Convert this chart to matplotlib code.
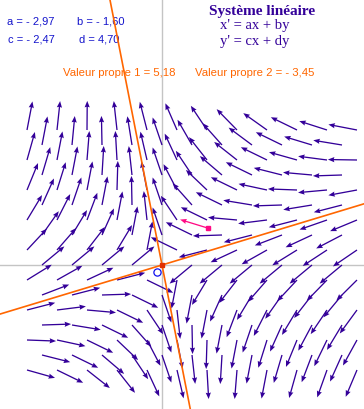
import numpy as np
import matplotlib.pyplot as plt

# linear system  x' = ax + by ,  y' = cx + dy
a, b, c, d = -2.97, -1.60, -2.47, 4.70
coef_labels = ["a = - 2,97", "b = - 1,60", "c = - 2,47", "d = 4,70"]
eig_labels = ["Valeur propre 1 = 5,18", "Valeur propre 2 = - 3,45"]

# sample points of the direction field (step 0.5, checkerboard)
grid_i = np.arange(-9, 14)
grid_k = np.arange(-7, 10)
step = 0.5

# point dragged by the user (pink arrow)
probe = (1.53, 1.23)

W, H = 364, 410
PX = 30.0  # pixels per unit
ORIG = (162, 266)

FIELD = "#330099"
ORANGE = "#ff6600"
BLUE = "#1414cc"


def frac(x, y):
    return x / W, 1 - y / H


fig = plt.figure(figsize=(W / 100, H / 100), dpi=100)
ax = fig.add_axes([0, 0, 1, 1])
ax.set_xlim(-ORIG[0] / PX, (W - ORIG[0]) / PX)
ax.set_ylim(-(H - ORIG[1]) / PX, ORIG[1] / PX)
ax.axis("off")

# axes through the origin
ax.axhline(0, color="#c4c4c4", lw=1, zorder=1)
ax.axvline(0, color="#c4c4c4", lw=1, zorder=1)

# direction field, arrows of fixed length
I, K = np.meshgrid(grid_i, grid_k)
keep = (I + K) % 2 == 0
X = I[keep] * step
Y = K[keep] * step
U = a * X + b * Y
V = c * X + d * Y
n = np.hypot(U, V)
n[n == 0] = 1
L = 0.97
ax.quiver(X, Y, U / n * L, V / n * L, angles="xy", scale_units="xy", scale=1,
          units="dots", width=1.3, headwidth=4, headlength=5, headaxislength=4.5,
          color=FIELD, zorder=3)

# eigenvector lines
M = np.array([[a, b], [c, d]])
vals, vecs = np.linalg.eig(M)
for v in vecs.T:
    ax.axline((0, 0), (v[0], v[1]), color=ORANGE, lw=1.2, zorder=4)
ax.plot([0], [0], "s", color="#e03000", ms=2.2, zorder=5)
ax.plot([-0.16], [-0.23], "o", mfc="none", mec="#1010ee", ms=5.2, mew=0.9, zorder=5)

# pink arrow at the probe point
pu = a * probe[0] + b * probe[1]
pv = c * probe[0] + d * probe[1]
pn = np.hypot(pu, pv)
ax.quiver([probe[0]], [probe[1]], [pu / pn * L], [pv / pn * L], angles="xy",
          scale_units="xy", scale=1, units="dots", width=1.3, headwidth=4,
          headlength=5, headaxislength=4.5, color="#ff0a84", zorder=6)
ax.plot([probe[0]], [probe[1]], "s", color="#ff0a84", ms=2.5, zorder=6)

# texts
sans = "Liberation Sans"
serif = "Liberation Serif"
for lab, (x, y) in zip(coef_labels, [(7, 24), (77, 24), (8, 43), (79, 43)]):
    ax.text(*frac(x, y), lab, transform=ax.transAxes, family=sans, fontsize=8,
            color=BLUE, va="baseline", ha="left")

ax.text(*frac(209, 14.5), "Système linéaire", transform=ax.transAxes, family=serif,
        fontsize=11, fontweight="bold", color=FIELD, va="baseline")
ax.text(*frac(220, 29.5), "x' = ax + by", transform=ax.transAxes, family=serif,
        fontsize=10.5, color=FIELD, va="baseline")
ax.text(*frac(220, 44.5), "y' = cx + dy", transform=ax.transAxes, family=serif,
        fontsize=10.5, color=FIELD, va="baseline")

for lab, x in zip(eig_labels, [63, 195]):
    ax.text(*frac(x, 76), lab, transform=ax.transAxes, family=sans, fontsize=8.2,
            color=ORANGE, va="baseline")

fig.savefig("out.png", dpi=100)
